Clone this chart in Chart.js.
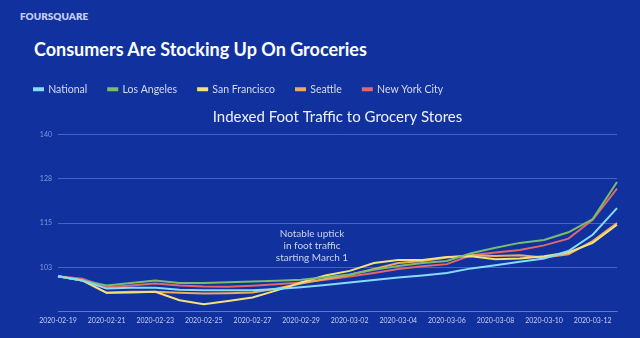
<!DOCTYPE html>
<html>
<head>
<meta charset="utf-8">
<script src="https://cdn.jsdelivr.net/npm/chart.js@4"></script>
<style>
  html, body { margin: 0; padding: 0; background: #11319e; }
  #wrap { position: relative; width: 640px; height: 338px; overflow: hidden; background: #11319e; }
  #brand { position: absolute; left: 20px; top: 10px; font: 800 10px Lato, sans-serif; color: #c3cdf3; letter-spacing: 0; }
  #headline { position: absolute; left: 34px; top: 38px; margin: 0; font: 700 18px Lato, sans-serif; color: #ffffff; }
  canvas { position: absolute; left: 0; top: 0; }
</style>
</head>
<body>
<div id="wrap">
  <div id="brand">FOURSQUARE</div>
  <h1 id="headline">Consumers Are Stocking Up On Groceries</h1>
  <canvas id="traffic" width="640" height="338"></canvas>
</div>
<script>
const dates = [
  '2020-02-19', '2020-02-20', '2020-02-21', '2020-02-22', '2020-02-23', '2020-02-24',
  '2020-02-25', '2020-02-26', '2020-02-27', '2020-02-28', '2020-02-29', '2020-03-01',
  '2020-03-02', '2020-03-03', '2020-03-04', '2020-03-05', '2020-03-06', '2020-03-07',
  '2020-03-08', '2020-03-09', '2020-03-10', '2020-03-11', '2020-03-12', '2020-03-13'
];

const national = [100, 98.8, 96.5, 96.7, 96.7, 96.2, 96.0, 96.0, 96.0, 96.4, 96.9, 97.5,
  98.2, 98.9, 99.6, 100.2, 100.9, 102.2, 103.1, 104.1, 105.0, 107.1, 111.7, 119.2];
const losAngeles = [100, 98.8, 97.4, 98.1, 98.8, 98.1, 98.1, 98.3, 98.5, 98.7, 99.0, 99.7,
  100.5, 101.8, 102.9, 103.7, 104.3, 106.5, 108.0, 109.4, 110.2, 112.4, 116.1, 126.6];
const sanFrancisco = [100, 98.8, 95.3, 95.4, 95.6, 93.2, 92.1, 93.0, 94.0, 96.0, 98.2, 100.2,
  101.5, 103.7, 104.6, 104.6, 105.4, 105.6, 104.8, 105.0, 105.6, 106.7, 109.4, 114.5];
const seattle = [100, 98.8, 95.3, 95.6, 95.6, 95.3, 95.1, 95.2, 95.4, 96.5, 97.9, 99.2,
  100.4, 102.0, 103.7, 104.3, 105.3, 105.9, 105.7, 105.9, 105.3, 106.2, 109.9, 115.0];
const newYork = [100, 99.3, 96.9, 97.4, 97.9, 97.4, 97.1, 97.0, 97.3, 97.7, 98.2, 99.0,
  99.9, 100.9, 102.0, 102.8, 103.4, 105.9, 106.7, 107.4, 108.7, 110.6, 115.9, 124.7];

const yTickValues = [90, 102.5, 115, 127.5, 140];
const yTickLabels = ['', '103', '115', '128', '140'];

const noteLines = ['Notable uptick', 'in foot traffic', 'starting March 1'];

// text note drawn in data coordinates
const noteText = {
  id: 'noteText',
  afterDatasetsDraw(chart) {
    const { ctx, scales } = chart;
    const x = scales.x.getPixelForValue(10.45);
    const y = scales.y.getPixelForValue(112.1);
    ctx.save();
    ctx.font = '10px Lato, sans-serif';
    ctx.fillStyle = '#c9d2f3';
    ctx.textAlign = 'center';
    ctx.textBaseline = 'middle';
    noteLines.forEach((line, i) => ctx.fillText(line, x, y + i * 12));
    ctx.restore();
  }
};

const line = (label, data, color) => ({
  label, data,
  borderColor: color,
  backgroundColor: color,
  borderWidth: 2,
  pointRadius: 0,
  tension: 0
});

const gridColor = 'rgba(110, 140, 230, 0.55)';

new Chart(document.getElementById('traffic'), {
  type: 'line',
  data: {
    labels: dates,
    datasets: [
      line('National', national, '#86dcf6'),
      line('Los Angeles', losAngeles, '#79bd6c'),
      line('San Francisco', sanFrancisco, '#f3e27c'),
      line('Seattle', seattle, '#f1a95e'),
      line('New York City', newYork, '#e0676a')
    ]
  },
  options: {
    responsive: false,
    animation: false,
    layout: { padding: { top: 63, left: 13, right: 23, bottom: 8 } },
    plugins: {
      legend: {
        position: 'top',
        align: 'start',
        labels: {
          boxWidth: 9,
          boxHeight: 2,
          padding: 21,
          color: '#d4dbf5',
          font: { family: 'Lato', size: 10.5 }
        }
      },
      title: {
        display: true,
        text: 'Indexed Foot Traffic to Grocery Stores',
        fullSize: false,
        weight: 500,
        color: '#eef1fb',
        font: { family: 'Lato', size: 15, weight: 'normal' },
        padding: { top: 4, bottom: 8 }
      },
      tooltip: { enabled: false }
    },
    scales: {
      x: {
        grid: { display: false, drawTicks: false },
        border: { display: true, color: gridColor, width: 1 },
        ticks: {
          autoSkip: false,
          maxRotation: 0,
          padding: 5,
          color: '#c6d0f1',
          font: { family: 'Lato', size: 7 },
          callback: (v, i) => (i % 2 === 0 ? dates[i] : '')
        }
      },
      y: {
        min: 90,
        max: 140,
        afterBuildTicks: s => { s.ticks = yTickValues.map(v => ({ value: v })); },
        afterFit: s => { s.width = 45; },
        grid: { color: gridColor, lineWidth: 1, drawTicks: false },
        border: { display: false },
        ticks: {
          padding: 6,
          color: 'rgba(150, 170, 228, 0.85)',
          font: { family: 'Lato', size: 7 },
          callback: (v, i) => yTickLabels[i]
        }
      }
    }
  },
  plugins: [noteText]
});
</script>
</body>
</html>
